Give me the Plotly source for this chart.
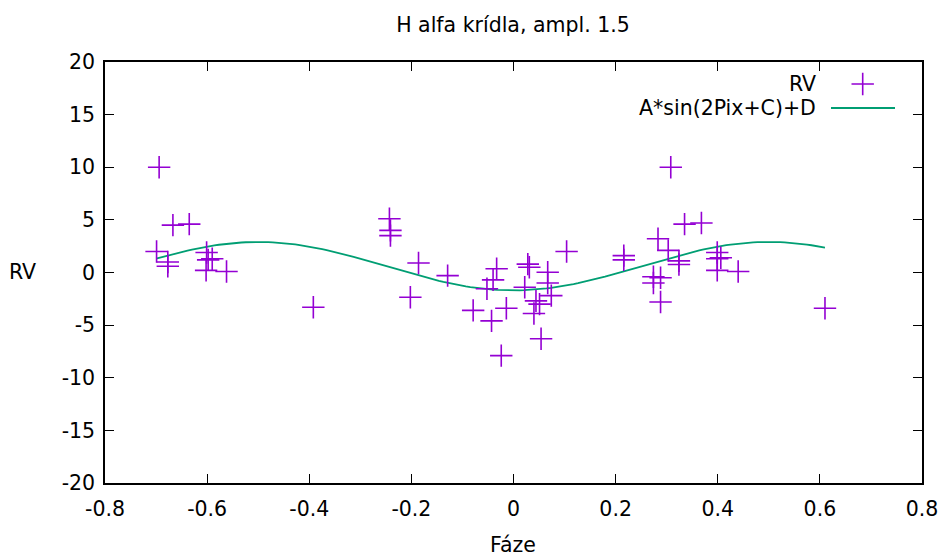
import numpy as np
import plotly.graph_objects as go

# Phase (Fáze) and radial velocity (RV)
phase = [-0.694, -0.667, -0.635, -0.699, -0.677, -0.677, -0.601, -0.598, -0.590, -0.602,
         -0.562, -0.392, -0.243, -0.241, -0.241, -0.186, -0.202, -0.129, 0.104, -0.033,
         -0.040, -0.052, -0.079, -0.043, -0.014, -0.024, 0.028, 0.031, 0.022, 0.067,
         0.067, 0.074, 0.044, 0.051, 0.040, 0.054, 0.308, 0.335, 0.368, 0.283,
         0.216, 0.216, 0.303, 0.324, 0.324, 0.274, 0.288, 0.274, 0.288, 0.399,
         0.406, 0.399, 0.399, 0.440, 0.610]
rv = [10.0, 4.5, 4.6, 2.0, 1.0, 0.6, 1.9, 1.2, 1.3, 0.2,
      0.1, -3.3, 5.1, 4.0, 3.5, 0.9, -2.35, -0.3, 2.0, 0.35,
      -0.7, -1.55, -3.6, -4.6, -3.4, -7.9, 0.8, 0.5, -1.4, 0.03,
      -1.0, -2.2, -2.7, -3.0, -3.9, -6.3, 10.0, 4.6, 4.7, 3.2,
      1.6, 1.2, 2.1, 1.1, 0.76, -0.4, -0.5, -1.0, -2.8, 1.9,
      1.4, 1.3, 0.2, 0.1, -3.4]

# Fitted model parameters: A*sin(2*pi*x + C) + D
fit_A = 2.3
fit_C = -np.pi / 2
fit_D = 0.6
fit_range = [-0.70, 0.61]

x_ticks = [-0.8, -0.6, -0.4, -0.2, 0, 0.2, 0.4, 0.6, 0.8]
x_tick_labels = ["-0.8", "-0.6", "-0.4", "-0.2", "0", "0.2", "0.4", "0.6", "0.8"]
y_ticks = [-20, -15, -10, -5, 0, 5, 10, 15, 20]
y_tick_labels = ["-20", "-15", "-10", "-5", "0", "5", "10", "15", "20"]

title_text = "H alfa krídla, ampl. 1.5"
legend_names = ["RV", "A*sin(2Pix+C)+D"]

PURPLE = "#9400d3"
GREEN = "#009e73"
FONT = "DejaVu Sans"
FS = 20.5

xf = np.linspace(fit_range[0], fit_range[1], 150)
yf = fit_A * np.sin(2 * np.pi * xf + fit_C) + fit_D

fig = go.Figure()
fig.add_trace(go.Scatter(
    x=xf, y=yf, mode="lines", line=dict(color=GREEN, width=1.8),
    showlegend=False, hoverinfo="skip"))
fig.add_trace(go.Scatter(
    x=phase, y=rv, mode="markers",
    marker=dict(symbol="cross-thin", size=16, color=PURPLE,
                line=dict(color=PURPLE, width=1.6)),
    showlegend=False))

# Legend keys drawn on an overlay axis spanning the plot area (0..1)
W, H = 939, 556
L, R, T, B = 105, 17, 62, 73
pw, ph = W - L - R, H - T - B


def px2x(px):
    return (px - L) / pw


def py2y(py):
    return (H - B - py) / ph


key_x_mark = px2x(862.7)
key_y1 = py2y(84)
key_y2 = py2y(108)
line_x = [px2x(831), px2x(895)]
text_x = px2x(818)

fig.add_trace(go.Scatter(
    x=[key_x_mark], y=[key_y1], xaxis="x2", yaxis="y2", mode="markers",
    marker=dict(symbol="cross-thin", size=16, color=PURPLE,
                line=dict(color=PURPLE, width=1.6)),
    showlegend=False, hoverinfo="skip"))
fig.add_trace(go.Scatter(
    x=line_x, y=[key_y2, key_y2], xaxis="x2", yaxis="y2", mode="lines",
    line=dict(color=GREEN, width=1.8), showlegend=False, hoverinfo="skip"))

annotations = [
    dict(x=text_x, y=key_y1, xref="paper", yref="paper", text=legend_names[0],
         showarrow=False, xanchor="right", yanchor="middle",
         font=dict(family=FONT, size=FS, color="black")),
    dict(x=text_x, y=key_y2, xref="paper", yref="paper", text=legend_names[1],
         showarrow=False, xanchor="right", yanchor="middle",
         font=dict(family=FONT, size=FS, color="black")),
    dict(x=px2x(513), y=py2y(545), xref="paper", yref="paper", text="Fáze",
         showarrow=False, xanchor="center", yanchor="middle",
         font=dict(family=FONT, size=FS, color="black")),
    dict(x=px2x(22), y=py2y(272), xref="paper", yref="paper", text="RV",
         showarrow=False, xanchor="center", yanchor="middle",
         font=dict(family=FONT, size=FS, color="black")),
]

axis_common = dict(
    showgrid=False, zeroline=False, showline=True, linecolor="black",
    linewidth=1.5, mirror="allticks", ticks="inside", ticklen=9,
    tickwidth=1.2, tickcolor="black", automargin=False,
    tickfont=dict(family=FONT, size=FS, color="black"),
)

fig.update_layout(
    width=W, height=H,
    margin=dict(l=L, r=R, t=T, b=B, autoexpand=False),
    plot_bgcolor="white", paper_bgcolor="white",
    title=dict(text=title_text, x=513 / W, xanchor="center",
               y=1 - 25 / H, yanchor="middle",
               font=dict(family=FONT, size=FS, color="black")),
    xaxis=dict(range=[-0.8, 0.8], tickvals=x_ticks, ticktext=x_tick_labels,
               ticklabelstandoff=7, **axis_common),
    yaxis=dict(range=[-20, 20], tickvals=y_ticks, ticktext=y_tick_labels,
               ticklabelstandoff=4, **axis_common),
    xaxis2=dict(range=[0, 1], overlaying="x", visible=False),
    yaxis2=dict(range=[0, 1], overlaying="y", visible=False),
    annotations=annotations,
    showlegend=False,
)

fig.write_html("out.html")
